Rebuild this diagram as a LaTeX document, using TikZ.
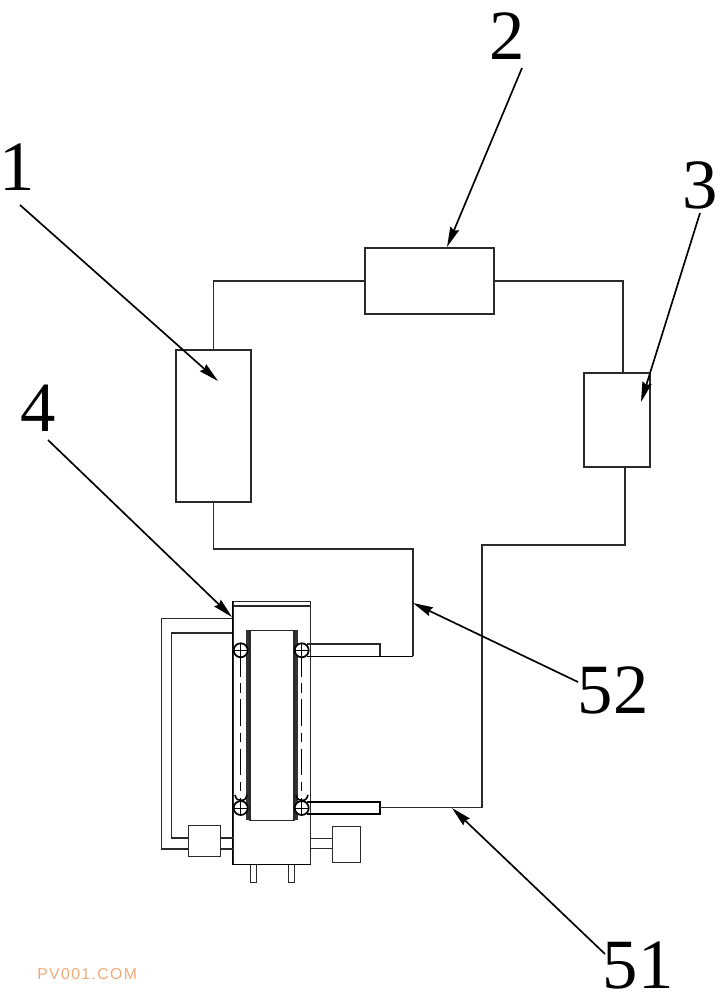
\documentclass[tikz,border=0pt]{standalone}
\usepackage{fontspec}
\setmainfont{Liberation Serif}
\newfontfamily\wmfont[LetterSpace=9]{Liberation Sans}
\usetikzlibrary{arrows.meta}
\definecolor{ink}{HTML}{2A2A2A}
\definecolor{wmark}{HTML}{F3A878}
\tikzset{
  x=0.75pt,y=-0.75pt,
  boxnode/.style={draw=ink,fill=white,line width=0.85pt,inner sep=0pt,rectangle},
  wire/.style={draw=ink,line width=0.85pt},
  heavy/.style={draw=black,line width=1.2pt},
  bar/.style={draw=none,fill=black!80,inner sep=0pt,rectangle},
  leader/.style={draw=black,line width=1.25pt,-{Stealth[length=15pt,width=7pt,inset=1.5pt]}},
  num/.style={font=\fontsize{53}{53}\selectfont,inner sep=0pt,text=black},
  roller/.style={circle,draw=black,line width=1.3pt,fill=white,inner sep=0pt,minimum size=10.5pt,
    path picture={\draw[black,line width=0.6pt]
      (path picture bounding box.north)--(path picture bounding box.south)
      (path picture bounding box.west)--(path picture bounding box.east);}},
  centreline/.style={draw=black,line width=0.9pt,dash pattern=on 20pt off 5pt on 7pt off 5pt},
}
\begin{document}
\begin{tikzpicture}
\useasboundingbox (0,0) rectangle (720,1000);
% main boxes
\node[boxnode,minimum width=56.25pt,minimum height=114pt] (b1) at (213.5,426) {};
\node[boxnode,minimum width=96.75pt,minimum height=49.5pt] (b2) at (429.5,281) {};
\node[boxnode,minimum width=49.5pt,minimum height=70.5pt] (b3) at (617,420) {};
% junction coordinates
\coordinate (c1a) at (625,467);
\coordinate (c1b) at (482,545);
\coordinate (c3) at (623,373);
\coordinate (pt52) at (413,656.3);
\coordinate (pt51) at (482,807.7);
% pipes of the loop
\draw[wire] (b1.north) |- (b2.west);
\draw[wire] (b2.east) -| (c3);
\draw[wire] (c1a) |- (c1b) -- (pt51);
\draw[wire] (b1.south) |- (413,549) -- (pt52);
% side pipes of the body
\coordinate (o1) at (232.5,618.7);
\coordinate (o2) at (232.5,633);
\node[boxnode,minimum width=24.3pt,minimum height=23.2pt] (pump) at (204.5,841.2) {};
\node[boxnode,minimum width=21.3pt,minimum height=26.8pt] (motor) at (346.5,844.2) {};
\draw[wire] (o1) -- (161.7,618.7) |- (pump.west |- 0,849);
\draw[wire] (o2) -- (171.7,633) |- (pump.west |- 0,838);
% feet (behind body)
\node[boxnode,minimum width=4.5pt,minimum height=14pt,anchor=north] (f1) at (253.7,863.5) {};
\node[boxnode,minimum width=4.5pt,minimum height=14pt,anchor=north] (f2) at (291.3,863.5) {};
% body
\node[boxnode,minimum width=58pt,minimum height=196.9pt,anchor=north west] (body) at (232.5,601) {};
\draw[wire] (body.north west |- 0,606) -- (body.north east |- 0,606);
\draw[heavy] (body.north west) -- (body.south west) -- (body.south east);
\draw[wire] (pump.east |- 0,838) -- (body.west |- 0,838);
\draw[wire] (pump.east |- 0,849) -- (body.west |- 0,849);
\draw[wire] (body.east |- 0,838.7) -- (motor.west |- 0,838.7);
\draw[wire] (body.east |- 0,848.3) -- (motor.west |- 0,848.3);
% outlet stubs
\draw[wire] (306.7,644) -- (380,644) -- (380,656.3);
\draw[heavy] (306.7,656.3) -- (pt52);
\draw[heavy] (306.7,801.7) -- (380,801.7) -- (380,814) -- (306.7,814);
\draw[wire] (380,807.7) -- (pt51);
% core block
\node[boxnode,minimum width=33pt,minimum height=142.5pt,anchor=north west,line width=1.1pt] (core) at (249.3,630) {};
\node[bar,minimum width=2.2pt,minimum height=142.5pt,anchor=north east] (barL) at (core.north west) {};
\node[bar,minimum width=2.2pt,minimum height=142.5pt,anchor=north west] (barR) at (core.north east) {};
% dash-dot centre lines
\draw[centreline] (240.7,650) -- (240.7,808);
\draw[centreline] (301.7,650) -- (301.7,808);
% rollers
\node[roller] (r1) at (240.7,650.3) {};
\node[roller] (r2) at (301.7,650.3) {};
\node[roller] (r3) at (240.7,808) {};
\node[roller] (r4) at (301.7,808) {};
\draw[black,line width=1.2pt] (235,795) .. controls (236,799) and (238,801) .. (r3.north);
\draw[black,line width=1.2pt] (247,795) .. controls (246,799) and (244,801) .. (r3.north);
\draw[black,line width=1.2pt] (296,795) .. controls (297,799) and (299,801) .. (r4.north);
\draw[black,line width=1.2pt] (308,795) .. controls (307,799) and (305,801) .. (r4.north);
% labels and leaders
\node[num] (n1) at (17,167) {1};
\node[num] (n2) at (507,36) {2};
\node[num] (n3) at (700,185) {3};
\node[num] (n4) at (38,408) {4};
\node[num] (n52) at (613,690) {52};
\node[num] (n51) at (638,966) {51};
\coordinate (s1) at (20,205); \coordinate (t1) at (218,381);
\coordinate (s2) at (522,68); \coordinate (t2) at (447,247);
\coordinate (s3) at (700,213); \coordinate (t3) at (641,402);
\coordinate (s4) at (48,440); \coordinate (t4) at (232,617);
\coordinate (s52b) at (578,682); \coordinate (t52) at (413,603);
\coordinate (s51b) at (605,954); \coordinate (t51) at (452,808);
\draw[leader] (s1) -- (t1);
\draw[leader] (s2) -- (t2);
\draw[leader] (s3) -- (t3);
\draw[leader] (s4) -- (t4);
\draw[leader] (s52b) -- (t52);
\draw[leader] (s51b) -- (t51);
% watermark
\node[anchor=west,inner sep=0pt,text=wmark,font=\wmfont\fontsize{11.8}{14}\selectfont] (wm) at (37,974) {PV001.COM};
\end{tikzpicture}
\end{document}
